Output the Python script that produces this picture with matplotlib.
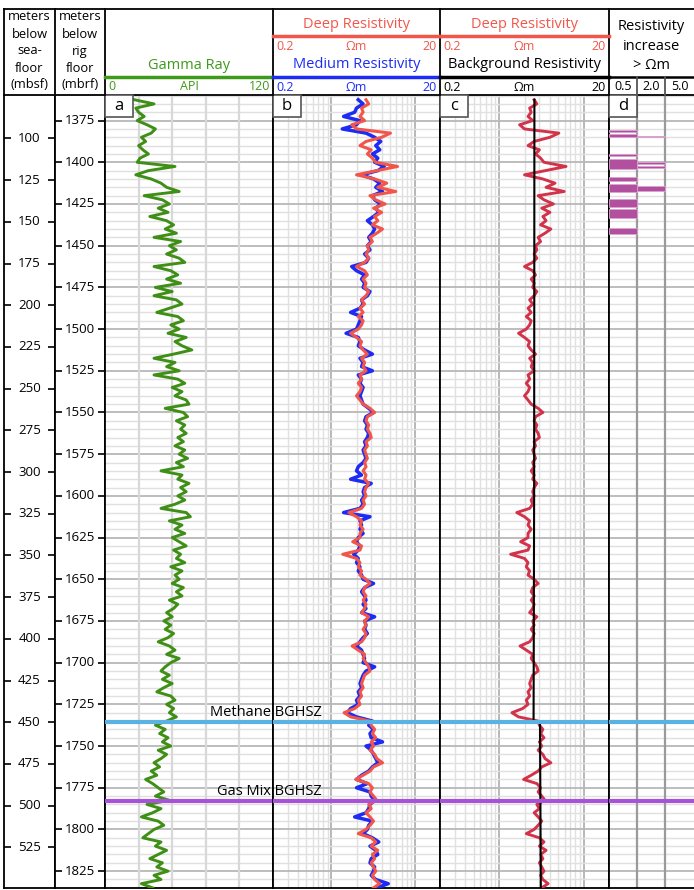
import numpy as np
import matplotlib.pyplot as plt
from matplotlib.patches import Rectangle

plt.rcParams['font.family'] = ['Open Sans', 'DejaVu Sans']

# log samples, meters below rig floor, every 2.5 m from 1362.5
depth_start = 1362.5
depth_step = 2.5

gamma_ray = [
    21, 35, 22, 24, 28, 23, 30, 36, 33, 26,
    29, 24, 27, 31, 25, 23, 50, 31, 22, 33,
    40, 44, 53, 28, 41, 46, 38, 45, 32, 44,
    49, 43, 51, 35, 54, 46, 51, 44, 53, 57,
    35, 47, 52, 44, 54, 36, 48, 35, 51, 55,
    46, 37, 52, 56, 47, 53, 45, 58, 50, 55,
    62, 49, 35, 50, 44, 53, 35, 52, 57, 48,
    55, 50, 58, 60, 43, 56, 59, 51, 57, 54,
    58, 52, 56, 50, 57, 53, 59, 51, 56, 40,
    55, 52, 60, 54, 58, 52, 57, 50, 40, 58,
    61, 46, 55, 50, 57, 48, 53, 58, 49, 54,
    51, 57, 47, 55, 50, 53, 48, 56, 51, 55,
    46, 52, 49, 44, 48, 42, 47, 43, 49, 45,
    38, 46, 50, 44, 53, 47, 43, 40, 46, 41,
    48, 42, 37, 47, 50, 44, 49, 46, 51, 44,
    36, 43, 39, 45, 41, 47, 38, 44, 40, 35,
    39, 33, 37, 29, 34, 38, 42, 36, 46, 30,
    40, 34, 26, 38, 42, 35, 31, 27, 40, 36,
    44, 38, 32, 41, 37, 45, 35, 40, 26, 34,
]

deep_res = [
    2.6, 2.8, 2.3, 2.4, 2.2, 2.5, 1.75, 2.0, 5.1, 4.0,
    2.6, 2.2, 3.0, 2.7, 3.1, 3.4, 6.2, 3.5, 2.0, 3.3,
    4.6, 3.6, 5.9, 2.9, 3.4, 4.4, 3.2, 4.0, 3.3, 3.6,
    3.1, 4.1, 3.5, 2.9, 3.1, 2.7, 2.8, 2.6, 2.8, 2.5,
    2.0, 2.5, 2.7, 2.4, 2.6, 2.5, 2.8, 2.6, 2.3, 2.5,
    2.2, 2.4, 2.1, 2.4, 2.3, 2.1, 1.7, 2.0, 2.3, 2.2,
    2.4, 2.7, 2.3, 2.5, 2.4, 2.6, 2.2, 2.3, 2.1, 2.3,
    2.2, 2.0, 2.2, 2.4, 2.9, 3.3, 2.7, 2.6, 2.8, 2.7,
    2.9, 3.0, 2.6, 2.7, 2.5, 2.6, 2.7, 2.5, 2.6, 2.4,
    2.6, 2.5, 2.8, 2.6, 2.5, 2.6, 2.4, 2.5, 2.3, 1.62,
    2.0, 2.3, 2.2, 2.4, 2.2, 2.2, 1.8, 2.3, 2.2, 1.37,
    2.0, 2.2, 2.1, 2.3, 2.2, 2.6, 2.9, 2.5, 2.4, 2.6,
    2.4, 2.6, 2.5, 2.3, 2.8, 2.5, 2.6, 2.4, 2.6, 2.5,
    2.3, 1.77, 2.1, 2.5, 2.4, 2.6, 2.8, 2.9, 2.5, 2.4,
    2.3, 2.4, 2.2, 2.3, 2.1, 2.2, 1.9, 1.42, 1.7, 2.9,
    3.0, 3.3, 3.1, 3.4, 3.0, 3.2, 2.9, 3.3, 3.5, 4.1,
    3.2, 2.9, 2.4, 1.95, 2.8, 3.1, 2.9, 3.2, 3.5, 2.8,
    3.0, 2.6, 2.9, 3.2, 2.9, 2.6, 2.1, 3.0, 3.4, 3.0,
    3.6, 3.1, 3.3, 3.0, 3.2, 3.4, 3.1, 3.3, 3.8, 3.2,
]

medium_res = [
    2.1, 2.4, 2.0, 1.9, 1.4, 2.2, 2.0, 1.35, 2.6, 3.3,
    3.9, 3.4, 3.8, 3.1, 3.6, 3.3, 4.3, 3.6, 2.3, 3.2,
    3.8, 3.4, 4.1, 3.1, 3.3, 3.9, 3.4, 3.7, 3.2, 2.7,
    3.1, 3.3, 3.1, 2.8, 3.0, 2.7, 2.9, 2.5, 2.8, 2.6,
    1.75, 2.0, 2.5, 2.3, 2.5, 2.4, 2.9, 2.7, 2.3, 2.4,
    2.2, 1.7, 2.3, 2.2, 2.1, 2.0, 1.5, 2.1, 2.2, 2.1,
    2.5, 3.1, 2.2, 2.4, 2.3, 3.1, 2.1, 2.3, 2.2, 2.4,
    2.3, 2.2, 2.3, 2.4, 2.8, 3.2, 2.6, 2.5, 2.7, 2.6,
    2.8, 2.7, 2.5, 2.6, 2.4, 2.5, 2.6, 2.4, 2.1, 2.0,
    2.3, 1.7, 3.0, 2.5, 2.4, 2.5, 2.3, 2.4, 2.2, 1.4,
    2.9, 2.2, 2.3, 2.2, 2.4, 2.1, 2.0, 2.2, 2.1, 1.85,
    2.1, 2.0, 2.2, 2.1, 2.3, 2.4, 3.2, 2.5, 2.3, 2.5,
    2.6, 2.4, 2.6, 2.3, 3.3, 2.5, 2.6, 2.5, 2.7, 2.4,
    2.2, 2.0, 2.3, 2.4, 2.5, 2.4, 3.3, 2.6, 2.4, 2.3,
    2.2, 2.3, 2.1, 2.2, 2.0, 2.1, 1.7, 1.55, 2.0, 3.1,
    2.8, 3.2, 2.9, 3.0, 4.1, 2.6, 3.0, 3.2, 3.4, 3.6,
    3.1, 2.8, 2.3, 2.0, 2.7, 2.0, 2.9, 3.0, 3.3, 2.9,
    2.8, 2.6, 1.9, 3.1, 2.8, 2.7, 2.4, 3.1, 3.7, 2.9,
    3.4, 3.6, 3.0, 2.9, 3.3, 3.2, 3.0, 3.4, 4.8, 3.5,
]

background_depth = [1362.5, 1600.0, 1735.6, 1735.6, 1835.0]
background_res = [2.62, 2.60, 2.56, 3.05, 3.12]

# intervals with deep resistivity above background by > 0.5 and > 2.0 ohm-m
inc05_top = [1380.6, 1383.0, 1395.0, 1398.0, 1408.8, 1413.0, 1422.0, 1428.0, 1439.4]
inc05_base = [1381.8, 1384.8, 1396.2, 1404.0, 1411.2, 1417.8, 1426.8, 1433.4, 1443.0]
inc20_top = [1384.2, 1399.8, 1402.2, 1414.2]
inc20_base = [1384.8, 1401.0, 1403.4, 1417.2]

methane_bghsz = 1735.7
gasmix_bghsz = 1782.9
mbsf_offset = 1285.7
mbrf_ticks = list(range(1375, 1826, 25))
mbsf_ticks = list(range(100, 526, 25))

depth = depth_start + depth_step * np.arange(len(gamma_ray))

W, H = 694, 890
TOP, BOT = 94.5, 887.5
D_TOP, D_BOT = 1359.35, 1834.8

GREEN = '#3f8f17'
RED = '#f2564b'
BLUE = '#1c2cf5'
CRIMSON = '#d2334a'

fig = plt.figure(figsize=(W / 100, H / 100), dpi=100)


def ypx(d):
    return TOP + (d - D_TOP) * (BOT - TOP) / (D_BOT - D_TOP)


def add_track(x0, x1):
    ax = fig.add_axes([x0 / W, 1 - BOT / H, (x1 - x0) / W, (BOT - TOP) / H])
    ax.set_ylim(D_BOT, D_TOP)
    ax.tick_params(which='both', bottom=False, left=False,
                   labelbottom=False, labelleft=False)
    for s in ax.spines.values():
        s.set_linewidth(1.3)
        s.set_color('black')
    return ax


def depth_grid(ax):
    for d in range(1360, 1836, 5):
        if d % 25 == 0:
            ax.axhline(d, color='#b8b8b8', lw=1.3, zorder=0)
        else:
            ax.axhline(d, color='#e0e0e0', lw=1.0, zorder=0)


def log_grid(ax):
    ax.set_xscale('log')
    ax.set_xlim(0.2, 20)
    ax.tick_params(which='both', bottom=False, labelbottom=False)
    for e in (-1, 0):
        for k in range(2, 10):
            v = k * 10.0 ** e
            if v > 0.2:
                ax.axvline(v, color='#e0e0e0', lw=1.0, zorder=0)
    for v in (1, 10):
        ax.axvline(v, color='#b8b8b8', lw=1.4, zorder=0)


def bghsz(ax):
    ax.axhline(methane_bghsz, color='#5ab2e3', lw=3, zorder=6)
    ax.axhline(gasmix_bghsz, color='#a653d8', lw=3, zorder=6)


# depth columns
ax_sf = add_track(4, 55)
ax_rf = add_track(55, 105)
for ax, ticks, shift in [(ax_sf, mbsf_ticks, mbsf_offset), (ax_rf, mbrf_ticks, 0)]:
    pos = [t + shift for t in ticks]
    ax.set_yticks(pos)
    ax.tick_params(axis='y', direction='in', length=5, width=1.2,
                   left=True, right=True, labelleft=False)
    for p, t in zip(pos, ticks):
        ax.text(0.5, p, str(t), transform=ax.get_yaxis_transform(),
                ha='center', va='center', fontsize=9.5)

# track a: gamma ray
ax_a = add_track(105, 273)
ax_a.set_xlim(0, 120)
depth_grid(ax_a)
for v in (24, 48, 72, 96):
    ax_a.axvline(v, color='#d8d8d8', lw=1.6, zorder=0)
ax_a.plot(gamma_ray, depth, color=GREEN, lw=2.1, zorder=3)
bghsz(ax_a)

# track b: deep and medium resistivity
ax_b = add_track(273, 440)
log_grid(ax_b)
depth_grid(ax_b)
ax_b.plot(medium_res, depth, color=BLUE, lw=2.5, zorder=3)
ax_b.plot(deep_res, depth, color=RED, lw=2.2, zorder=4)
bghsz(ax_b)

# track c: deep vs background resistivity
ax_c = add_track(440, 609)
log_grid(ax_c)
depth_grid(ax_c)
ax_c.plot(deep_res, depth, color=CRIMSON, lw=2.1, zorder=3)
ax_c.plot(background_res, background_depth, color='black', lw=1.5, zorder=4)
bghsz(ax_c)

# track d: resistivity increase flags
ax_d = add_track(609, 694)
ax_d.set_xlim(0, 3.04)
ax_d.spines['right'].set_visible(False)
depth_grid(ax_d)
for v in (1, 2):
    ax_d.axvline(v, color='#9a9a9a', lw=1.6, zorder=1)
for col, tops, bases in [(0, inc05_top, inc05_base), (1, inc20_top, inc20_base)]:
    t = np.array(tops)
    b = np.array(bases)
    ax_d.barh((t + b) / 2, 1, height=b - t, left=col, color='#b2509f',
              edgecolor='#d9a3d0', lw=0.6, zorder=3)
bghsz(ax_d)

# overlay in pixel coordinates for header and annotations
ov = fig.add_axes([0, 0, 1, 1], zorder=10)
ov.set_xlim(0, W)
ov.set_ylim(H, 0)
ov.axis('off')

ov.plot([4, 694], [9, 9], color='black', lw=1.3)
for x in (4, 55, 105, 273, 440, 609):
    ov.plot([x, x], [9, TOP], color='black', lw=1.3)

for i, line in enumerate(['meters', 'below', 'sea-', 'floor', '(mbsf)']):
    ov.text(29.5, 17 + i * 17, line, ha='center', va='center', fontsize=9.3)
for i, line in enumerate(['meters', 'below', 'rig', 'floor', '(mbrf)']):
    ov.text(80, 17 + i * 17, line, ha='center', va='center', fontsize=9.3)


def scale_row(x0, x1, y, color, left='0.2', right='20', unit='Ωm'):
    ov.text(x0 + 3, y, left, ha='left', va='center', fontsize=9, color=color)
    ov.text((x0 + x1) / 2, y, unit, ha='center', va='center', fontsize=9, color=color)
    ov.text(x1 - 3, y, right, ha='right', va='center', fontsize=9, color=color)


# gamma header
ov.text(189, 65.5, 'Gamma Ray', ha='center', va='center', fontsize=10.5, color='#3f9a1a')
ov.plot([105, 273], [76.5, 76.5], color='#3f9a1a', lw=2.5)
scale_row(105, 273, 87, '#3f9a1a', left='0', right='120', unit='API')

# resistivity headers
for x0, x1, second, col2 in [(273, 440, 'Medium Resistivity', BLUE),
                             (440, 609, 'Background Resistivity', 'black')]:
    xc = (x0 + x1) / 2
    ov.text(xc, 25, 'Deep Resistivity', ha='center', va='center', fontsize=10.5, color=RED)
    ov.plot([x0, x1], [36, 36], color=RED, lw=2.5)
    scale_row(x0, x1, 46.5, RED)
    ov.text(xc, 64, second, ha='center', va='center', fontsize=10.5, color=col2)
    ov.plot([x0, x1], [76.5, 76.5], color=col2, lw=2.5)
    scale_row(x0, x1, 87.3, col2)

# increase header
for y, line in [(26, 'Resistivity'), (46.5, 'increase'), (65.5, '> Ωm')]:
    ov.text(651.5, y, line, ha='center', va='center', fontsize=10.5)
ov.plot([609, 694], [76.5, 76.5], color='black', lw=1.8)
for x in (637, 665):
    ov.plot([x, x], [76.5, TOP], color='#555555', lw=1.3)
for x, lab in [(623, '0.5'), (651, '2.0'), (679.5, '5.0')]:
    ov.text(x, 87, lab, ha='center', va='center', fontsize=9)

# track letters
for x0, lab in [(105, 'a'), (273, 'b'), (440, 'c'), (609, 'd')]:
    ov.add_patch(Rectangle((x0, TOP), 28, 22.5, fc='white', ec='#555555', lw=1.2))
    ov.text(x0 + 14, TOP + 11, lab, ha='center', va='center', fontsize=12)

# BGHSZ labels
ov.text(322, ypx(methane_bghsz) - 2, 'Methane BGHSZ', ha='right', va='bottom', fontsize=10.5)
ov.text(322, ypx(gasmix_bghsz) - 2, 'Gas Mix BGHSZ', ha='right', va='bottom', fontsize=10.5)

fig.savefig('out.png', dpi=100)
